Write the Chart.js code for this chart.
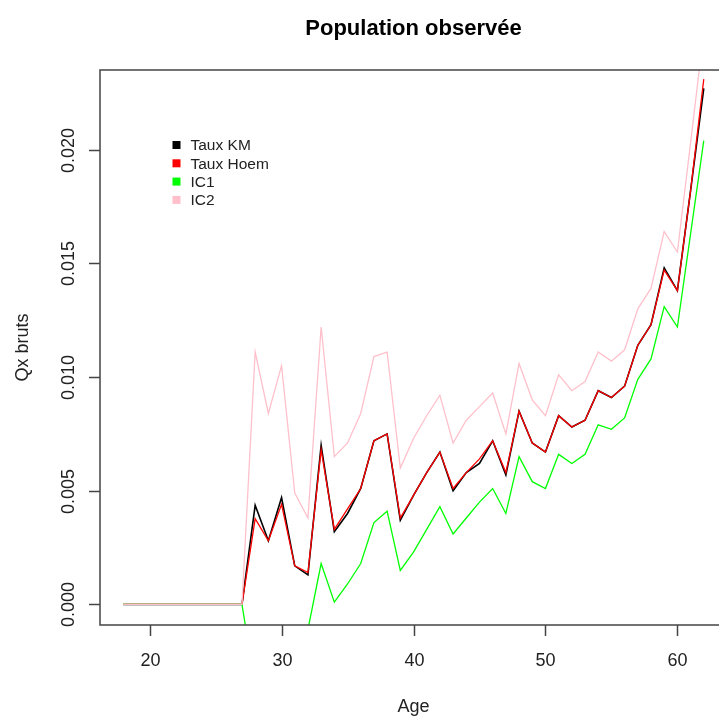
<!DOCTYPE html>
<html>
<head>
<meta charset="utf-8">
<script src="https://cdn.jsdelivr.net/npm/chart.js@4/dist/chart.umd.min.js"></script>
<style>
  html, body { margin: 0; padding: 0; background: #fff; overflow: hidden; }
  #wrap { width: 827px; height: 718px; }
</style>
</head>
<body>
<div id="wrap"><canvas id="c" width="827" height="718"></canvas></div>
<script>
const ages = [18,19,20,21,22,23,24,25,26,27,28,29,30,31,32,33,34,35,36,37,38,39,40,41,42,43,44,45,46,47,48,49,50,51,52,53,54,55,56,57,58,59,60,61,62];
const tauxKM = [0,0,0,0,0,0,0,0,0,0,0.00436,0.0028,0.0047,0.0017,0.0013,0.0070,0.0032,0.0040,0.0051,0.0072,0.0075,0.0037,0.0048,0.0058,0.0067,0.0050,0.0058,0.0062,0.0072,0.0057,0.0085,0.0071,0.0067,0.0083,0.0078,0.0081,0.0094,0.0091,0.0096,0.0114,0.0123,0.0148,0.0138,0.0182,0.0227];
const tauxHoem = [0,0,0,0,0,0,0,0,0,0,0.00377,0.0028,0.0044,0.0017,0.0014,0.0068,0.0033,0.0042,0.0051,0.0072,0.0075,0.0038,0.0048,0.0058,0.0067,0.0051,0.0058,0.0064,0.0072,0.0058,0.0085,0.0071,0.0067,0.0083,0.0078,0.0081,0.0094,0.0091,0.0096,0.0114,0.0123,0.0147,0.0138,0.0182,0.0231];
const ic1 = [0,0,0,0,0,0,0,0,0,0,-0.0036,-0.0027,-0.0017,-0.0016,-0.0011,0.0018,0.0001,0.0009,0.0018,0.0036,0.0041,0.0015,0.0023,0.0033,0.0043,0.0031,0.0038,0.0045,0.0051,0.0040,0.0065,0.0054,0.0051,0.0066,0.0062,0.0066,0.0079,0.0077,0.0082,0.0099,0.0108,0.0131,0.0122,0.0163,0.0204];
const ic2 = [0,0,0,0,0,0,0,0,0,0,0.0111,0.0084,0.0105,0.0049,0.0038,0.0122,0.0065,0.0071,0.0084,0.0109,0.0111,0.0060,0.0073,0.0083,0.0092,0.0071,0.0081,0.0087,0.0093,0.0075,0.0106,0.0090,0.0083,0.0101,0.0094,0.0098,0.0111,0.0107,0.0112,0.0130,0.0139,0.0164,0.0155,0.0203,0.0252];
const seriesNames = ['Taux KM', 'Taux Hoem', 'IC1', 'IC2'];
const seriesColors = ['#000000', '#ff0000', '#00ff00', '#ffc0cb'];
const xTickValues = [20, 30, 40, 50, 60];
const yTickValues = [0, 0.005, 0.010, 0.015, 0.020];
const yTickLabels = ['0.000', '0.005', '0.010', '0.015', '0.020'];
const titleText = 'Population observée';
const xTitle = 'Age';
const yTitle = 'Qx bruts';

const FONT = '"Liberation Sans", Arial, Helvetica, sans-serif';
const TXT = '#222222';

function pts(vals) { return ages.map((a, i) => ({ x: a, y: vals[i] })); }

const decor = {
  id: 'decor',
  afterDraw(chart) {
    const ctx = chart.ctx;
    const a = chart.chartArea;
    const xs = chart.scales.x, ys = chart.scales.y;
    ctx.save();
    // box
    ctx.strokeStyle = '#444';
    ctx.lineWidth = 1.5;
    ctx.strokeRect(a.left, a.top, a.right - a.left, a.bottom - a.top);
    // x ticks
    ctx.fillStyle = TXT;
    ctx.font = '18px ' + FONT;
    ctx.textAlign = 'center';
    ctx.textBaseline = 'middle';
    xTickValues.forEach(v => {
      const px = Math.round(xs.getPixelForValue(v)) + 0.5;
      ctx.beginPath(); ctx.moveTo(px, a.bottom); ctx.lineTo(px, a.bottom + 11); ctx.stroke();
      ctx.fillText(String(v), px, 661);
    });
    // y ticks (rotated labels)
    yTickValues.forEach((v, i) => {
      const py = Math.round(ys.getPixelForValue(v)) + 0.5;
      ctx.beginPath(); ctx.moveTo(a.left - 11, py); ctx.lineTo(a.left, py); ctx.stroke();
      ctx.save();
      ctx.translate(69, py);
      ctx.rotate(-Math.PI / 2);
      ctx.fillText(yTickLabels[i], 0, 0);
      ctx.restore();
    });
    // axis titles
    const cx = (a.left + a.right) / 2;
    ctx.fillText(xTitle, cx, 707);
    ctx.save();
    ctx.translate(23, (a.top + a.bottom) / 2);
    ctx.rotate(-Math.PI / 2);
    ctx.fillText(yTitle, 0, 0);
    ctx.restore();
    // title
    ctx.font = 'bold 22px ' + FONT;
    ctx.fillStyle = '#000';
    ctx.fillText(titleText, cx, 29);
    // legend
    ctx.font = '15.5px ' + FONT;
    ctx.textAlign = 'left';
    ctx.fillStyle = TXT;
    seriesNames.forEach((n, i) => {
      const y = 146 + i * 18.3;
      ctx.fillStyle = seriesColors[i];
      ctx.fillRect(172.5, y - 5, 8, 8);
      ctx.fillStyle = TXT;
      ctx.fillText(n, 190.5, y);
    });
    ctx.restore();
  }
};

new Chart(document.getElementById('c'), {
  type: 'line',
  data: {
    datasets: [
      { label: seriesNames[0], data: pts(tauxKM), borderColor: seriesColors[0], borderWidth: 1.6, order: 4 },
      { label: seriesNames[1], data: pts(tauxHoem), borderColor: seriesColors[1], borderWidth: 1.3, order: 3 },
      { label: seriesNames[2], data: pts(ic1), borderColor: seriesColors[2], borderWidth: 1.3, order: 2 },
      { label: seriesNames[3], data: pts(ic2), borderColor: seriesColors[3], borderWidth: 1.3, order: 1 }
    ]
  },
  options: {
    responsive: false,
    animation: false,
    devicePixelRatio: 1,
    layout: { padding: { left: 100, top: 70, right: 100, bottom: 93 } },
    elements: { point: { radius: 0 }, line: { tension: 0, fill: false } },
    plugins: { legend: { display: false }, title: { display: false }, tooltip: { enabled: false } },
    scales: {
      x: { type: 'linear', min: 16.24, max: 63.76, display: false },
      y: { type: 'linear', min: -0.000904, max: 0.023504, display: false }
    }
  },
  plugins: [decor]
});
</script>
</body>
</html>
